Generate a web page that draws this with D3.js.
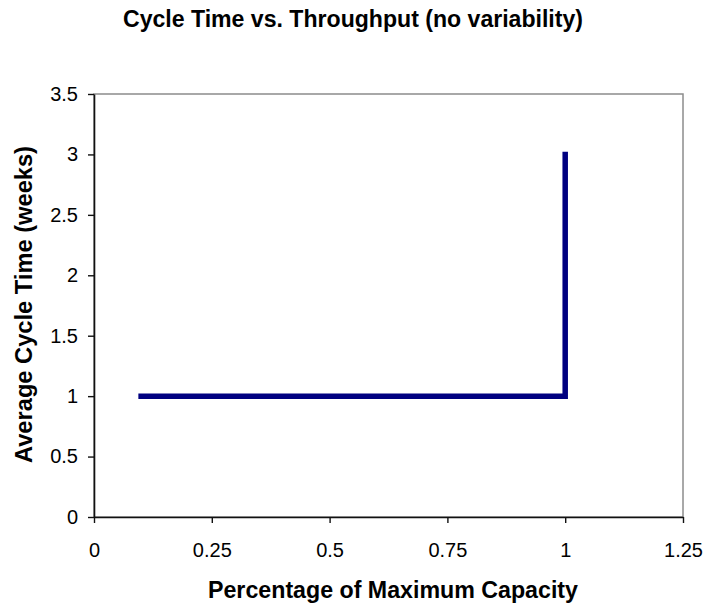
<!DOCTYPE html>
<html>
<head>
<meta charset="utf-8">
<script src="https://cdn.jsdelivr.net/npm/d3@7"></script>
<style>
  html, body { margin: 0; padding: 0; background: #fff; }
  svg { display: block; }
  text { font-family: "Liberation Sans", Arial, sans-serif; fill: #000; }
</style>
</head>
<body>
<svg id="chart" width="704" height="606"></svg>
<script>
// Throughput as a fraction of capacity, and the resulting cycle time (weeks)
const throughput = [0.1, 1, 1];
const cycleTime = [1, 1, 3];
const xTicks = [0, 0.25, 0.5, 0.75, 1, 1.25];
const yTicks = [0, 0.5, 1, 1.5, 2, 2.5, 3, 3.5];
const titleText = "Cycle Time vs. Throughput (no variability)";
const xTitle = "Percentage of Maximum Capacity";
const yTitle = "Average Cycle Time (weeks)";

const svg = d3.select("#chart");
const plot = { left: 94, right: 683, top: 94, bottom: 517 };

const x = d3.scaleLinear().domain([0, 1.25]).range([plot.left, plot.right]);
const y = d3.scaleLinear().domain([0, 3.5]).range([plot.bottom, plot.top]);

// Plot-area frame (top and right edges show in grey)
svg.append("rect")
  .attr("x", plot.left).attr("y", plot.top)
  .attr("width", plot.right - plot.left).attr("height", plot.bottom - plot.top)
  .attr("fill", "none").attr("stroke", "#8c8c8c").attr("stroke-width", 1.5);

// Axes
const fmt = d => String(d);
const yAxis = d3.axisLeft(y).tickValues(yTicks).tickFormat(fmt).tickSizeInner(6).tickSizeOuter(0).tickPadding(10);
const xAxis = d3.axisBottom(x).tickValues(xTicks).tickFormat(fmt).tickSizeInner(6).tickSizeOuter(0).tickPadding(20);

const gy = svg.append("g").attr("transform", `translate(${plot.left},0)`).call(yAxis);
const gx = svg.append("g").attr("transform", `translate(0,${plot.bottom})`).call(xAxis);

[gx, gy].forEach(g => {
  g.selectAll("path.domain").attr("stroke", "#111").attr("stroke-width", 1.6);
  g.selectAll(".tick line").attr("stroke", "#111").attr("stroke-width", 1.4);
  g.selectAll(".tick text")
    .attr("font-family", "'Liberation Sans', Arial, sans-serif")
    .attr("font-size", 20).attr("fill", "#000");
});

// Data line
const line = d3.line().x((d, i) => x(throughput[i])).y(d => y(d));
svg.append("path")
  .datum(cycleTime)
  .attr("d", line)
  .attr("fill", "none")
  .attr("stroke", "#000080")
  .attr("stroke-width", 5.5)
  .attr("stroke-linejoin", "miter")
  .attr("stroke-linecap", "square");

// Titles
svg.append("text")
  .attr("x", 353).attr("y", 27)
  .attr("text-anchor", "middle")
  .attr("font-size", 23).attr("font-weight", "bold")
  .attr("textLength", 460).attr("lengthAdjust", "spacingAndGlyphs")
  .text(titleText);

svg.append("text")
  .attr("x", 393).attr("y", 598)
  .attr("text-anchor", "middle")
  .attr("font-size", 23).attr("font-weight", "bold")
  .attr("textLength", 370).attr("lengthAdjust", "spacingAndGlyphs")
  .text(xTitle);

svg.append("text")
  .attr("transform", "translate(32,304.5) rotate(-90)")
  .attr("text-anchor", "middle")
  .attr("font-size", 23).attr("font-weight", "bold")
  .attr("textLength", 317).attr("lengthAdjust", "spacingAndGlyphs")
  .text(yTitle);
</script>
</body>
</html>
